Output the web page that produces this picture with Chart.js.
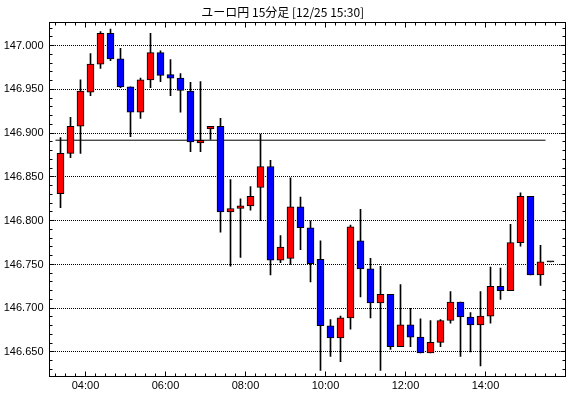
<!DOCTYPE html>
<html>
<head>
<meta charset="utf-8">
<script src="https://cdn.jsdelivr.net/npm/chart.js@4.4.1/dist/chart.umd.min.js"></script>
<style>
  html, body { margin: 0; padding: 0; background: #fff; }
  #chart { display: block; }
</style>
</head>
<body>
<canvas id="chart" width="570" height="398"></canvas>
<script>
// Chart title and axis range
const chartTitle = 'ユーロ円 15分足 [12/25 15:30]';
const axisFrom = '03:06';
const axisTo = '16:00';

// Tick labels shown on the axes
const xTickLabels = ['04:00', '06:00', '08:00', '10:00', '12:00', '14:00'];
const yTickLabels = ['147.000', '146.950', '146.900', '146.850', '146.800', '146.750', '146.700', '146.650'];

// 15 min candles (start time of each candle)
const times = [
  '03:15', '03:30', '03:45', '04:00', '04:15', '04:30', '04:45', '05:00', '05:15', '05:30',
  '05:45', '06:00', '06:15', '06:30', '06:45', '07:00', '07:15', '07:30', '07:45', '08:00',
  '08:15', '08:30', '08:45', '09:00', '09:15', '09:30', '09:45', '10:00', '10:15', '10:30',
  '10:45', '11:00', '11:15', '11:30', '11:45', '12:00', '12:15', '12:30', '12:45', '13:00',
  '13:15', '13:30', '13:45', '14:00', '14:15', '14:30', '14:45', '15:00', '15:15', '15:30'
];
const opens = [
  146.831, 146.877, 146.908, 146.947, 146.979, 147.014, 146.985, 146.953, 146.924, 146.961,
  146.992, 146.967, 146.963, 146.948, 146.889, 146.905, 146.908, 146.810, 146.814, 146.817,
  146.838, 146.862, 146.755, 146.757, 146.816, 146.792, 146.756, 146.680, 146.666, 146.689,
  146.777, 146.745, 146.706, 146.716, 146.656, 146.681, 146.667, 146.649, 146.661, 146.686,
  146.707, 146.690, 146.681, 146.691, 146.725, 146.720, 146.775, 146.828, 146.738, 146.753
];
const highs = [
  146.895, 146.918, 146.961, 146.991, 147.016, 147.019, 146.997, 146.953, 146.963, 147.014,
  146.994, 146.984, 146.968, 146.958, 146.959, 146.908, 146.917, 146.847, 146.825, 146.839,
  146.899, 146.869, 146.783, 146.849, 146.827, 146.800, 146.777, 146.687, 146.691, 146.795,
  146.813, 146.757, 146.748, 146.716, 146.727, 146.700, 146.688, 146.686, 146.687, 146.719,
  146.707, 146.695, 146.719, 146.747, 146.746, 146.796, 146.832, 146.828, 146.772, 146.753
];
const lows = [
  146.815, 146.872, 146.877, 146.943, 146.974, 146.983, 146.952, 146.896, 146.917, 146.952,
  146.959, 146.943, 146.924, 146.879, 146.879, 146.893, 146.787, 146.748, 146.758, 146.812,
  146.800, 146.738, 146.752, 146.750, 146.767, 146.730, 146.629, 146.645, 146.639, 146.676,
  146.713, 146.689, 146.629, 146.653, 146.656, 146.656, 146.649, 146.649, 146.656, 146.683,
  146.645, 146.650, 146.634, 146.683, 146.710, 146.720, 146.771, 146.738, 146.726, 146.753
];
const closes = [
  146.877, 146.908, 146.948, 146.979, 147.014, 146.985, 146.953, 146.924, 146.961, 146.992,
  146.966, 146.963, 146.949, 146.890, 146.892, 146.908, 146.810, 146.814, 146.817, 146.828,
  146.862, 146.755, 146.770, 146.816, 146.792, 146.751, 146.680, 146.666, 146.689, 146.793,
  146.745, 146.706, 146.716, 146.656, 146.681, 146.667, 146.649, 146.661, 146.686, 146.707,
  146.690, 146.681, 146.691, 146.725, 146.720, 146.775, 146.828, 146.738, 146.753, 146.753
];

// horizontal reference line
const refLevel = 146.892;
const refFrom = '03:15';
const refTo = '15:30';

const toMin = (t) => {
  let p = t.split(':');
  return Number(p[0]) * 60 + Number(p[1]);
}
const toTime = (m) => {
  let h = Math.floor(m / 60);
  let mm = Math.round(m % 60);
  return String(h).padStart(2, '0') + ':' + String(mm).padStart(2, '0');
}
const half = (v) => Math.round(v - 0.5) + 0.5;

// candle centre sits in the middle of its 15 min slot
let bodyData = [];
let wickData = [];
for (let i = 0; i < times.length; i++) {
  let x = toMin(times[i]) + 7.5;
  bodyData.push({ x: x, y: [opens[i], closes[i]] });
  wickData.push({ x: x, y: [lows[i], highs[i]] });
}

const candleColor = (ctx) => {
  let i = ctx.dataIndex;
  if (closes[i] > opens[i]) return '#ff0000';
  if (closes[i] < opens[i]) return '#0000ff';
  return '#000000';
}

// dotted grid, frame and inward tick marks, placed by the chart's scales
const frameTicks = {
  id: 'frameTicks',
  beforeDatasetsDraw(chart) {
    const { ctx, chartArea: a, scales } = chart;
    const y = scales.y;
    ctx.save();
    ctx.strokeStyle = '#000';
    ctx.lineWidth = 1;
    ctx.setLineDash([1, 1]);
    y.ticks.forEach((t) => {
      if (!yTickLabels.includes(t.value.toFixed(3))) return;
      let py = half(y.getPixelForValue(t.value));
      // start on a whole pixel so each dot is crisp
      ctx.beginPath();
      ctx.moveTo(Math.round(a.left) + 1, py);
      ctx.lineTo(Math.round(a.right), py);
      ctx.stroke();
    });
    ctx.restore();
  },
  afterDatasetsDraw(chart) {
    const { ctx, chartArea: a, scales } = chart;
    const x = scales.x;
    const y = scales.y;
    let l = half(a.left), r = half(a.right), t = half(a.top), b = half(a.bottom);
    ctx.save();
    ctx.strokeStyle = '#000';
    ctx.lineWidth = 1;
    ctx.beginPath();
    y.ticks.forEach((tk) => {
      let len = yTickLabels.includes(tk.value.toFixed(3)) ? 5 : 3;
      let py = half(y.getPixelForValue(tk.value));
      ctx.moveTo(l, py); ctx.lineTo(l + len, py);
      ctx.moveTo(r, py); ctx.lineTo(r - len, py);
    });
    x.ticks.forEach((tk) => {
      let len = xTickLabels.includes(toTime(tk.value)) ? 5 : 3;
      let px = half(x.getPixelForValue(tk.value));
      ctx.moveTo(px, b); ctx.lineTo(px, b - len);
      ctx.moveTo(px, t); ctx.lineTo(px, t + len);
    });
    ctx.stroke();
    ctx.strokeRect(l, t, r - l, b - t);
    ctx.restore();
  }
};

const tickFont = { family: '"Liberation Sans", Arial, sans-serif', size: 11 };

new Chart(document.getElementById('chart'), {
  type: 'bar',
  data: {
    datasets: [
      {
        label: 'body',
        data: bodyData,
        backgroundColor: candleColor,
        borderColor: '#000',
        borderWidth: 1,
        borderSkipped: false,
        barThickness: 7,
        minBarLength: 1,
        grouped: false,
        order: 0
      },
      {
        label: 'wick',
        data: wickData,
        backgroundColor: '#000',
        borderWidth: 0,
        barThickness: 1,
        grouped: false,
        order: 1
      },
      {
        type: 'line',
        label: 'ref',
        data: [{ x: toMin(refFrom), y: refLevel }, { x: toMin(refTo), y: refLevel }],
        borderColor: '#000',
        borderWidth: 1,
        pointRadius: 0,
        order: 2
      }
    ]
  },
  options: {
    responsive: false,
    devicePixelRatio: 1,
    animation: false,
    events: [],
    layout: { padding: { left: 0, right: 4.5, top: 0, bottom: 0 } },
    plugins: {
      legend: { display: false },
      tooltip: { enabled: false },
      title: {
        display: true,
        text: chartTitle,
        color: '#000',
        font: { family: '"Noto Sans CJK JP", sans-serif', size: 12, weight: 'normal', lineHeight: 1.2 },
        padding: { top: 5, bottom: 3.1 }
      }
    },
    scales: {
      x: {
        type: 'linear',
        offset: false,
        min: toMin(axisFrom),
        max: toMin(axisTo),
        grid: { display: false, drawTicks: false },
        border: { display: false },
        afterFit: (s) => { s.height = 21.5; },
        ticks: {
          stepSize: 15,
          maxTicksLimit: 200,
          includeBounds: false,
          autoSkip: false,
          maxRotation: 0,
          minRotation: 0,
          padding: 3,
          color: '#000',
          font: tickFont,
          callback: (v) => {
            let s = toTime(v);
            return xTickLabels.includes(s) ? s : '';
          }
        }
      },
      y: {
        min: 146.622,
        max: 147.0265,
        grid: { display: false, drawTicks: false },
        border: { display: false },
        afterFit: (s) => { s.width = 49.5; },
        ticks: {
          stepSize: 0.01,
          maxTicksLimit: 200,
          includeBounds: false,
          autoSkip: false,
          padding: 6,
          color: '#000',
          font: tickFont,
          callback: (v) => {
            let s = Number(v).toFixed(3);
            return yTickLabels.includes(s) ? s : '';
          }
        }
      }
    }
  },
  plugins: [frameTicks]
});
</script>
</body>
</html>
